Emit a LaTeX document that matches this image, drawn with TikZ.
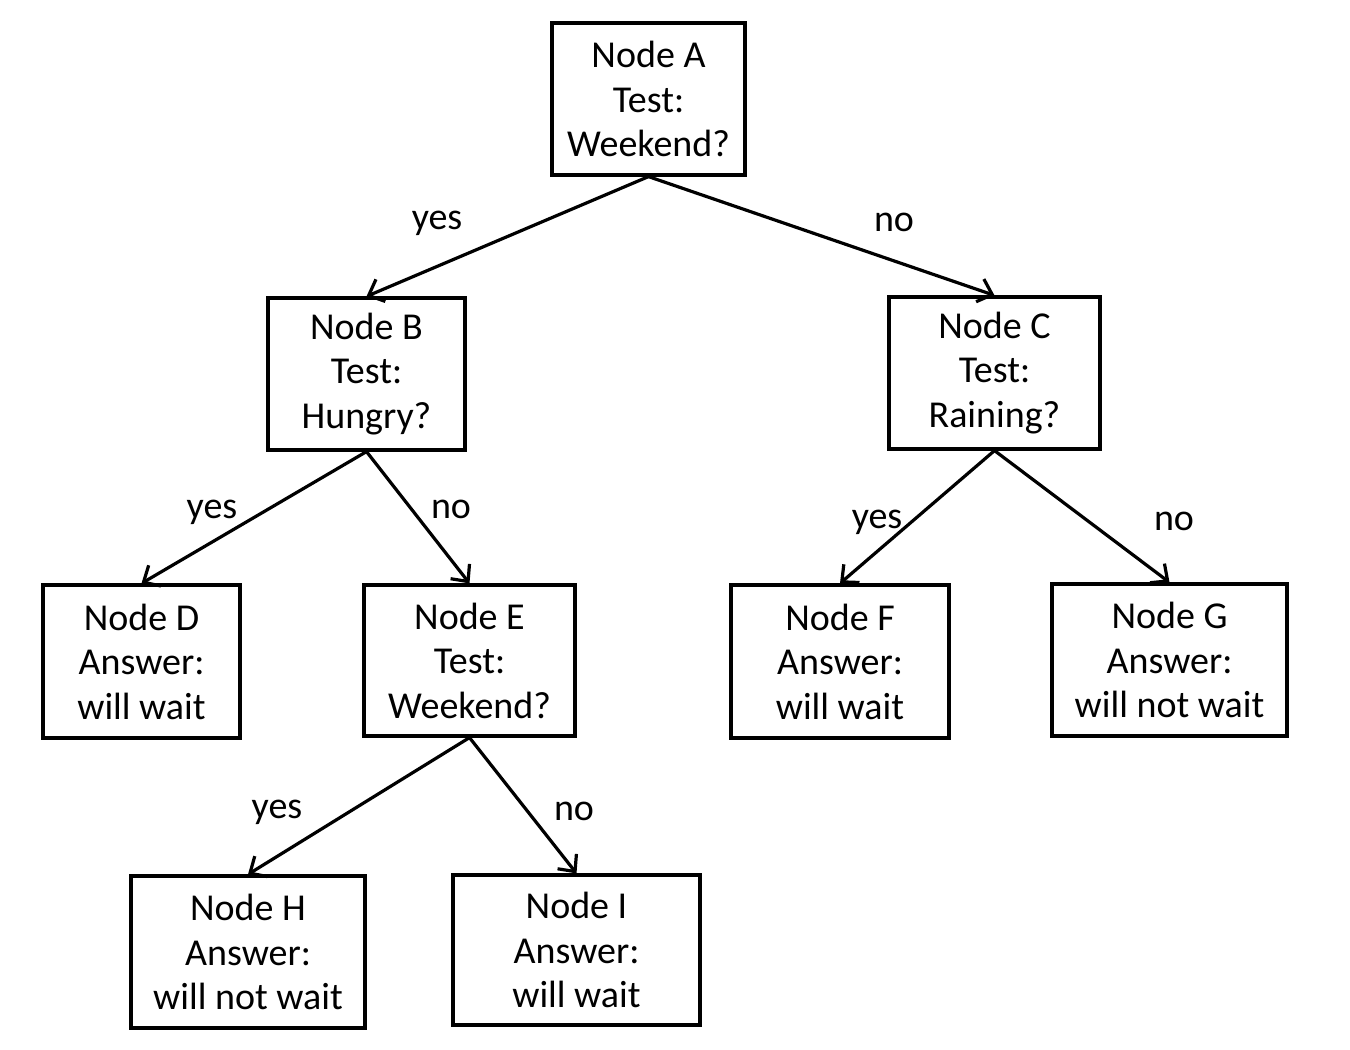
\documentclass[tikz,border=0pt]{standalone}
\usepackage{fontspec}
\setmainfont{Carlito}
\usetikzlibrary{arrows.meta}
\begin{document}
\begin{tikzpicture}[x=1pt,y=-1pt,
  box/.style={draw=black,line width=3.2pt,align=center,inner sep=0pt,
    font=\fontsize{38}{44.5}\selectfont},
  lbl/.style={font=\fontsize{38}{44.5}\selectfont,inner sep=0pt},
  arr/.style={line width=3.2pt,-{Straight Barb[length=13pt,width=24pt,line width=3.2pt]}}]
\useasboundingbox (0,0) rectangle (1350,1050);
\node[box,minimum width=193,minimum height=152] (A) at (648.5,99) {Node A\\Test:\\Weekend?};
\node[box,minimum width=197,minimum height=152] (B) at (366.5,374) {Node B\\Test:\\Hungry?};
\node[box,minimum width=211,minimum height=152] (C) at (994.5,373) {Node C\\Test:\\Raining?};
\node[box,minimum width=197,minimum height=153] (D) at (141.5,661.5) {Node D\\Answer:\\will wait};
\node[box,minimum width=211,minimum height=151] (E) at (469.5,660.5) {Node E\\Test:\\Weekend?};
\node[box,minimum width=218,minimum height=153] (F) at (840,661.5) {Node F\\Answer:\\will wait};
\node[box,minimum width=235,minimum height=152] (G) at (1169.5,660) {Node G\\Answer:\\will not wait};
\node[box,minimum width=234,minimum height=152] (H) at (248,952) {Node H\\Answer:\\will not wait};
\node[box,minimum width=247,minimum height=150] (I) at (576.5,950) {Node I\\Answer:\\will wait};
\draw[arr] (A.south) -- (B.north);
\draw[arr] (A.south) -- (C.north);
\draw[arr] (B.south) -- (D.north);
\draw[arr] (B.south) -- (E.north);
\draw[arr] (C.south) -- (F.north);
\draw[arr] (C.south) -- (G.north);
\draw[arr] (E.south) -- (H.north);
\draw[arr] (E.south) -- (I.north);
\node[lbl] (l1) at (437,223) {yes};
\node[lbl] (l2) at (894,222) {no};
\node[lbl] (l3) at (212,512) {yes};
\node[lbl] (l4) at (451,509) {no};
\node[lbl] (l5) at (877,522) {yes};
\node[lbl] (l6) at (1174,521) {no};
\node[lbl] (l7) at (277,812) {yes};
\node[lbl] (l8) at (574,811) {no};
\end{tikzpicture}
\end{document}
